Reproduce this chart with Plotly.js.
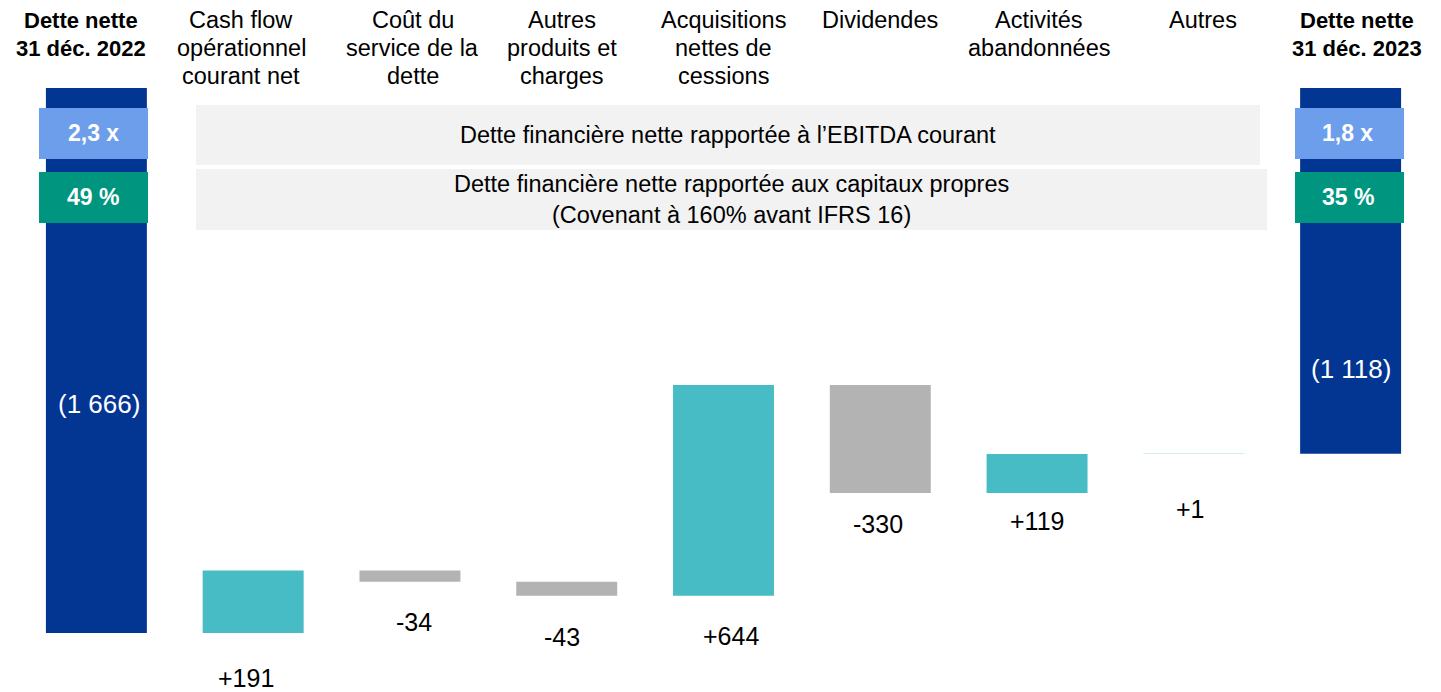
<!DOCTYPE html>
<html>
<head>
<meta charset="utf-8">
<script src="https://cdn.plot.ly/plotly-3.0.1.min.js"></script>
<style>
  html, body { margin: 0; padding: 0; background: #ffffff; }
  #chart { width: 1441px; height: 692px; }
</style>
</head>
<body>
<div id="chart"></div>
<script>
// ---------- DATA ----------
const categories = [
  "Dette nette<br>31 déc. 2022",
  "Cash flow<br>opérationnel<br>courant net",
  "Coût du<br>service de la<br>dette",
  "Autres<br>produits et<br>charges",
  "Acquisitions<br>nettes de<br>cessions",
  "Dividendes",
  "Activités<br>abandonnées",
  "Autres",
  "Dette nette<br>31 déc. 2023"
];
const openingDebt = -1666;
const changes = [191, -34, -43, 644, -330, 119, 1];
const closingDebt = -1118;
const ebitdaRatio = ["2,3 x", "1,8 x"];
const gearingRatio = ["49 %", "35 %"];
const bandLabels = [
  "Dette financière nette rapportée à l’EBITDA courant",
  "Dette financière nette rapportée aux capitaux propres<br>(Covenant à 160% avant IFRS 16)"
];

// ---------- STYLE / LAYOUT CONSTANTS ----------
const W = 1441, H = 692, ML = 18, MR = 12, MT = 88, MB = 0;
const PW = W - ML - MR, PH = H - MT - MB;
const pxX = px => (px - ML) / PW;
const pxY = py => (H - MB - py) / PH;
const FONT = "Liberation Sans, Arial, Helvetica, sans-serif";
const C_TOTAL = "#023692", C_POS = "#47BCC4", C_NEG = "#B3B3B3";
const C_EBITDA = "#6D9EEB", C_GEAR = "#00957F", C_BAND = "#F2F2F2";
const headerShift = [-15, -12, 3, -5, 0, 0, 2, 9, 6];
const labelShiftX = [-7, 4, -5, 7, -2, 0, -3];
const labelGap = [45, 40, 41, 40, 31, 28, 55];

// ---------- DERIVED ----------
const stepCats = categories.slice(1, 8);
const bases = [];
let running = openingDebt;
changes.forEach(c => { bases.push(running); running += c; });
const fmtTotal = v => "(" + Math.abs(v).toString().replace(/\B(?=(\d{3})+(?!\d))/g, " ") + ")";
const fmtChange = v => (v > 0 ? "+" : "") + v;

const traces = [
  {
    type: "bar",
    x: [categories[0], categories[8]],
    y: [openingDebt, closingDebt],
    base: [0, 0],
    marker: { color: C_TOTAL, line: { width: 0 } },
    hoverinfo: "skip",
    showlegend: false
  },
  {
    type: "bar",
    x: stepCats,
    y: changes,
    base: bases,
    marker: {
      color: changes.map(c => c >= 0 ? C_POS : C_NEG),
      line: { width: 0 }
    },
    hoverinfo: "skip",
    showlegend: false
  }
];

const annotations = [];
// category headers, one annotation per line
categories.forEach((cat, i) => {
  const bold = (i === 0 || i === categories.length - 1);
  cat.split("<br>").forEach((line, j) => {
    annotations.push({
      x: cat, xref: "x", xshift: headerShift[i],
      y: pxY(20 + 28 * j), yref: "paper", yanchor: "middle",
      text: bold ? "<b>" + line + "</b>" : line,
      showarrow: false,
      font: { family: FONT, size: bold ? 22 : 23.5, color: "#000000" }
    });
  });
});
// step labels below bars
stepCats.forEach((cat, i) => {
  annotations.push({
    x: cat, xref: "x", xshift: labelShiftX[i],
    y: Math.min(bases[i], bases[i] + changes[i]), yref: "y",
    yanchor: "middle", yshift: -labelGap[i],
    text: fmtChange(changes[i]),
    showarrow: false,
    font: { family: FONT, size: 25, color: "#000000" }
  });
});
// totals inside bars
annotations.push({
  x: categories[0], xref: "x", y: pxY(404), yref: "paper", yanchor: "middle", xshift: 3,
  text: fmtTotal(openingDebt), showarrow: false,
  font: { family: FONT, size: 26, color: "#ffffff" }
});
annotations.push({
  x: categories[8], xref: "x", y: pxY(369), yref: "paper", yanchor: "middle",
  text: fmtTotal(closingDebt), showarrow: false,
  font: { family: FONT, size: 26, color: "#ffffff" }
});
// ratio boxes labels
[[ebitdaRatio, 133.5], [gearingRatio, 197.5]].forEach(([arr, py]) => {
  [categories[0], categories[8]].forEach((cat, k) => {
    annotations.push({
      x: cat, xref: "x", xshift: -3, y: pxY(py), yref: "paper", yanchor: "middle",
      text: "<b>" + arr[k] + "</b>", showarrow: false,
      font: { family: FONT, size: 23, color: "#ffffff" }
    });
  });
});
// band labels
annotations.push({
  x: pxX(728), xref: "paper", y: pxY(135), yref: "paper", yanchor: "middle",
  text: bandLabels[0], showarrow: false,
  font: { family: FONT, size: 23.5, color: "#000000" }
});
annotations.push({
  x: pxX(731.5), xref: "paper", y: pxY(199.5), yref: "paper", yanchor: "middle",
  text: bandLabels[1], showarrow: false,
  font: { family: FONT, size: 23.5, color: "#000000" }
});

const rect = (x0, x1, y0, y1, color) => ({
  type: "rect", xref: "paper", yref: "paper", layer: "above",
  x0: pxX(x0), x1: pxX(x1), y0: pxY(y1), y1: pxY(y0),
  fillcolor: color, line: { width: 0 }
});
const shapes = [
  rect(196, 1260, 105, 165, C_BAND),
  rect(196, 1267, 169, 230, C_BAND),
  rect(39, 148, 108, 159, C_EBITDA),
  rect(39, 148, 172, 223, C_GEAR),
  rect(1295, 1404, 108, 159, C_EBITDA),
  rect(1295, 1404, 172, 223, C_GEAR)
];

const layout = {
  width: W, height: H,
  margin: { l: ML, r: MR, t: MT, b: MB, pad: 0 },
  paper_bgcolor: "#ffffff", plot_bgcolor: "#ffffff",
  barmode: "overlay",
  bargap: 0.356,
  xaxis: {
    type: "category", categoryorder: "array", categoryarray: categories,
    range: [-0.5, 8.5], showticklabels: false, showgrid: false,
    zeroline: false, showline: false, ticks: ""
  },
  yaxis: {
    range: [-PH / (545 / 1666), 0], showticklabels: false, showgrid: false,
    zeroline: false, showline: false, ticks: ""
  },
  shapes: shapes,
  annotations: annotations,
  font: { family: FONT }
};

Plotly.newPlot("chart", traces, layout, { displayModeBar: false, staticPlot: true });
</script>
</body>
</html>
